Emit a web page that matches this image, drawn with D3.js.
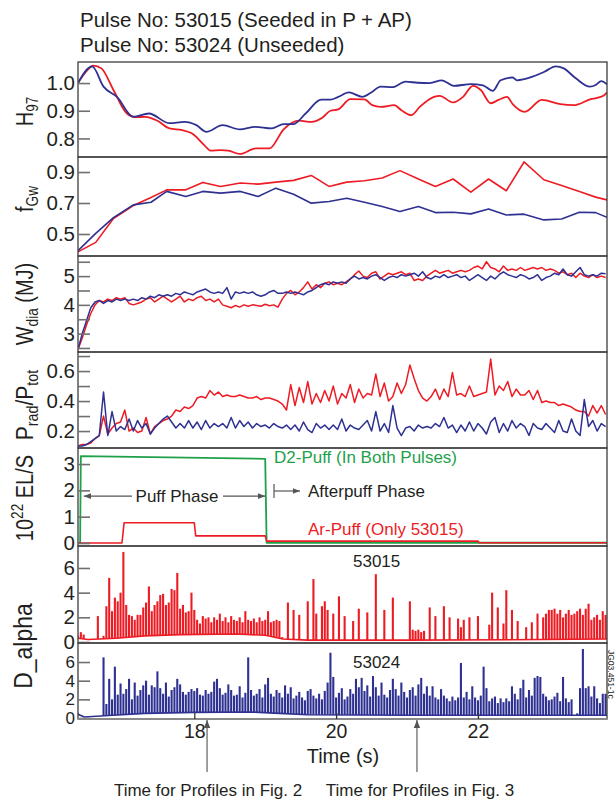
<!DOCTYPE html>
<html>
<head>
<meta charset="utf-8">
<script src="https://cdn.jsdelivr.net/npm/d3@7"></script>
<style>
  body { margin: 0; background: #fff; }
  text { font-family: "Liberation Sans", Arial, Helvetica, sans-serif; fill: #231f20; }
</style>
</head>
<body>
<svg id="chart" width="615" height="800"></svg>
<script>
// ---------------- data ----------------
// H97 (smooth traces)
var h97TimeBlue = [16.36,16.56,16.72,16.91,17.14,17.36,17.65,17.86,18.03,18.17,18.40,18.64,18.86,19.09,19.26,19.40,19.57,19.79,19.92,20.03,20.18,20.37,20.49,20.63,20.79,20.98,21.15,21.32,21.49,21.66,21.90,22.07,22.21,22.32,22.49,22.55,22.77,22.93,23.10,23.21,23.38,23.58,23.66,23.74,23.82];
var h97Blue = [1.00,1.06,0.987,0.95,0.878,0.89,0.855,0.86,0.848,0.824,0.848,0.833,0.842,0.836,0.852,0.852,0.89,0.94,0.94,0.95,0.966,0.95,0.965,0.987,0.985,1.005,1.001,1.0,1.01,0.99,0.996,0.992,0.972,1.01,1.02,1.01,1.023,1.04,1.06,1.053,1.017,0.987,0.993,1.007,0.995];
var h97TimeRed = [16.36,16.47,16.58,16.69,16.86,17.05,17.17,17.31,17.48,17.65,17.83,17.97,18.14,18.23,18.37,18.48,18.64,18.87,19.06,19.26,19.48,19.65,19.81,19.92,20.03,20.20,20.40,20.51,20.63,20.82,20.92,21.06,21.18,21.38,21.46,21.65,21.79,21.93,22.04,22.18,22.29,22.41,22.49,22.66,22.90,23.16,23.35,23.58,23.77,23.82];
var h97Red = [1.0,1.04,1.063,1.053,0.975,0.89,0.877,0.878,0.864,0.836,0.83,0.818,0.776,0.756,0.758,0.756,0.744,0.764,0.764,0.833,0.864,0.86,0.876,0.9,0.905,0.942,0.941,0.92,0.914,0.92,0.902,0.884,0.914,0.95,0.954,0.93,0.95,0.99,0.975,0.927,0.939,0.95,0.924,0.896,0.939,0.924,0.92,0.941,0.954,0.966];

// f_Gw
var fgwTime = [16.36,16.61,16.86,17.14,17.39,17.61,17.88,18.12,18.37,18.65,18.90,19.15,19.40,19.65,19.90,20.15,20.40,20.65,20.90,21.16,21.40,21.65,21.90,22.15,22.40,22.65,22.93,23.18,23.43,23.66,23.82];
var fgwRed = [0.385,0.446,0.60,0.684,0.736,0.785,0.785,0.833,0.807,0.829,0.822,0.835,0.846,0.878,0.807,0.835,0.844,0.861,0.909,0.855,0.807,0.855,0.77,0.855,0.779,0.965,0.85,0.813,0.775,0.738,0.72];
var fgwBlue = [0.392,0.504,0.606,0.688,0.705,0.775,0.742,0.775,0.764,0.775,0.742,0.796,0.757,0.699,0.71,0.731,0.705,0.677,0.645,0.677,0.638,0.64,0.63,0.662,0.623,0.628,0.591,0.597,0.64,0.638,0.608];

// sample times for W_dia and P_rad/P_tot
var gridTime = [
  16.36,16.42,16.48,16.54,16.60,16.66,16.72,16.78,16.84,16.90,
  16.96,17.02,17.08,17.14,17.20,17.26,17.32,17.38,17.44,17.50,
  17.56,17.62,17.68,17.74,17.80,17.86,17.92,17.98,18.04,18.10,
  18.16,18.22,18.28,18.34,18.40,18.46,18.52,18.58,18.64,18.70,
  18.76,18.82,18.88,18.94,19.00,19.06,19.12,19.18,19.24,19.30,
  19.36,19.42,19.48,19.54,19.60,19.66,19.72,19.78,19.84,19.90,
  19.96,20.02,20.08,20.14,20.20,20.26,20.32,20.38,20.44,20.50,
  20.56,20.62,20.68,20.74,20.80,20.86,20.92,20.98,21.04,21.10,
  21.16,21.22,21.28,21.34,21.40,21.46,21.52,21.58,21.64,21.70,
  21.76,21.82,21.88,21.94,22.00,22.06,22.12,22.18,22.24,22.30,
  22.36,22.42,22.48,22.54,22.60,22.66,22.72,22.78,22.84,22.90,
  22.96,23.02,23.08,23.14,23.20,23.26,23.32,23.38,23.44,23.50,
  23.56,23.62,23.68,23.74,23.80];

var wdiaRed = [
  2.45,2.85,3.3,3.7,4.0,4.15,4.1,4.2,4.15,4.25,
  4.2,4.25,4.05,4.0,4.05,4.1,4.2,4.25,4.1,4.2,
  4.3,4.2,4.1,4.2,4.3,4.1,4.2,4.15,4.25,4.3,
  4.15,4.2,4.1,4.2,4.0,3.95,3.9,3.98,3.92,4.0,
  3.95,4.0,3.98,3.95,4.02,3.97,4.0,3.92,4.2,4.4,
  4.5,4.35,4.45,4.6,4.8,4.55,4.7,4.6,4.75,4.8,
  4.7,4.75,4.7,4.8,4.9,5.05,5.18,5.0,4.95,5.1,
  5.15,4.9,5.0,5.1,5.05,5.1,5.15,5.05,5.1,4.85,
  4.9,4.85,5.0,5.1,5.2,5.1,5.15,5.2,5.1,5.15,
  5.2,5.15,5.2,5.3,5.35,5.25,5.5,5.3,5.25,5.15,
  5.35,5.2,5.25,5.2,5.3,5.2,5.25,5.3,5.25,5.3,
  5.2,5.25,5.2,5.1,5.15,5.05,5.1,4.95,5.1,5.0,
  4.95,5.05,4.95,5.0,4.95];
var wdiaBlue = [
  2.45,3.0,3.45,3.9,4.1,4.15,4.05,4.15,4.1,4.2,
  4.15,4.2,4.15,4.2,4.15,4.25,4.2,4.3,4.25,4.35,
  4.3,4.35,4.3,4.4,4.35,4.45,4.4,4.35,4.45,4.5,
  4.55,4.45,4.4,4.45,4.4,4.6,4.2,4.45,4.4,4.45,
  4.4,4.45,4.35,4.3,4.35,4.45,4.5,4.4,4.4,4.45,
  4.4,4.45,4.4,4.35,4.45,4.5,4.6,4.7,4.75,4.7,
  4.8,4.75,4.8,4.75,4.9,5.0,4.9,4.95,4.9,5.0,
  5.05,4.95,4.85,4.95,5.0,4.95,5.05,5.0,5.05,5.1,
  5.0,5.15,4.95,4.9,5.0,4.95,5.05,4.95,5.0,5.05,
  4.95,5.0,4.85,4.95,5.05,4.95,4.85,5.0,4.9,5.05,
  5.15,5.05,5.0,4.95,5.05,5.0,4.9,4.95,5.05,4.85,
  4.95,5.0,5.1,5.05,5.25,5.05,5.0,5.15,5.3,5.05,
  5.0,5.05,5.0,5.1,5.08];

var pradRed = [
  0.10,0.11,0.11,0.12,0.15,0.17,0.30,0.18,0.22,0.25,
  0.26,0.34,0.20,0.22,0.19,0.20,0.29,0.18,0.23,0.25,
  0.27,0.28,0.30,0.34,0.33,0.36,0.35,0.37,0.42,0.43,
  0.42,0.47,0.44,0.46,0.43,0.44,0.43,0.43,0.44,0.43,
  0.42,0.42,0.43,0.41,0.42,0.42,0.41,0.40,0.38,0.34,
  0.51,0.37,0.49,0.39,0.53,0.38,0.45,0.39,0.47,0.40,
  0.50,0.38,0.45,0.42,0.51,0.39,0.48,0.42,0.45,0.44,
  0.58,0.43,0.52,0.40,0.43,0.52,0.45,0.51,0.64,0.55,
  0.47,0.42,0.40,0.43,0.48,0.41,0.48,0.43,0.59,0.44,
  0.45,0.43,0.50,0.43,0.44,0.45,0.46,0.68,0.44,0.50,
  0.47,0.53,0.43,0.48,0.44,0.44,0.47,0.41,0.47,0.39,
  0.40,0.39,0.39,0.37,0.38,0.37,0.36,0.34,0.33,0.33,
  0.30,0.37,0.32,0.37,0.31];
var pradBlue = [
  0.10,0.10,0.11,0.13,0.15,0.17,0.46,0.17,0.33,0.20,
  0.23,0.21,0.28,0.20,0.27,0.22,0.25,0.18,0.22,0.25,
  0.28,0.30,0.26,0.22,0.25,0.22,0.27,0.22,0.26,0.21,
  0.27,0.22,0.25,0.23,0.25,0.22,0.29,0.22,0.27,0.23,
  0.26,0.22,0.25,0.23,0.24,0.22,0.25,0.23,0.22,0.24,
  0.21,0.24,0.20,0.26,0.21,0.19,0.25,0.22,0.24,0.21,
  0.24,0.21,0.28,0.20,0.24,0.22,0.21,0.24,0.27,0.20,
  0.33,0.20,0.25,0.19,0.37,0.22,0.17,0.22,0.23,0.20,
  0.24,0.22,0.23,0.22,0.25,0.23,0.29,0.22,0.24,0.19,
  0.24,0.20,0.26,0.20,0.25,0.22,0.18,0.26,0.29,0.19,
  0.25,0.20,0.27,0.22,0.25,0.23,0.17,0.25,0.22,0.21,
  0.25,0.22,0.19,0.27,0.20,0.19,0.28,0.20,0.17,0.41,
  0.23,0.27,0.20,0.25,0.23];

// gas puff rates (10^22 el/s)
var d2Time = [16.36,16.39,16.40,19.00,19.02,23.82];
var d2Rate = [0,0,3.30,3.20,0.01,0.01];
var arTime = [16.36,16.98,17.01,18.00,18.02,19.00,19.02,22.00,22.02,23.82];
var arRate = [0,0,0.77,0.77,0.27,0.27,0.07,0.07,0.01,0.01];

// D_alpha samples
var dalphaTime = [
  16.36,16.40,16.44,16.48,16.52,16.56,16.60,16.64,16.68,16.72,16.76,16.80,16.84,16.88,16.92,16.96,
  17.00,17.04,17.08,17.12,17.16,17.20,17.24,17.28,17.32,17.36,17.40,17.44,17.48,17.52,17.56,17.60,17.64,17.68,17.72,17.76,17.80,17.84,17.88,17.92,17.96,
  18.00,18.04,18.08,18.12,18.16,18.20,18.24,18.28,18.32,18.36,18.40,18.44,18.48,18.52,18.56,18.60,18.64,18.68,18.72,18.76,18.80,18.84,18.88,18.92,18.96,
  19.00,19.04,19.08,19.12,19.16,19.20,19.24,19.28,19.32,19.36,19.40,19.44,19.48,19.52,19.56,19.60,19.64,19.68,19.72,19.76,19.80,19.84,19.88,19.92,19.96,
  20.00,20.04,20.08,20.12,20.16,20.20,20.24,20.28,20.32,20.36,20.40,20.44,20.48,20.52,20.56,20.60,20.64,20.68,20.72,20.76,20.80,20.84,20.88,20.92,20.96,
  21.00,21.04,21.08,21.12,21.16,21.20,21.24,21.28,21.32,21.36,21.40,21.44,21.48,21.52,21.56,21.60,21.64,21.68,21.72,21.76,21.80,21.84,21.88,21.92,21.96,
  22.00,22.04,22.08,22.12,22.16,22.20,22.24,22.28,22.32,22.36,22.40,22.44,22.48,22.52,22.56,22.60,22.64,22.68,22.72,22.76,22.80,22.84,22.88,22.92,22.96,
  23.00,23.04,23.08,23.12,23.16,23.20,23.24,23.28,23.32,23.36,23.40,23.44,23.48,23.52,23.56,23.60,23.64,23.68,23.72,23.76,23.80];
var dalphaRed = [
  0.5,0.8,0.6,0.2,0,0,0,2.1,0,0.5,
  2.9,5.2,2.5,3.6,3.3,4.0,7.3,3.0,2.2,2.1,
  1.8,2.2,2.2,2.8,3.2,4.5,2.5,3.0,3.3,3.8,
  3.9,3.0,3.2,4.3,4.2,5.6,2.7,3.0,2.4,2.5,
  4.0,2.6,1.8,1.5,2.1,1.9,2.0,1.6,2.0,1.8,
  2.3,1.7,2.0,1.6,2.1,1.8,1.7,2.0,1.6,2.5,
  1.8,1.7,1.9,1.6,2.0,1.7,1.8,2.5,1.6,1.7,
  1.8,1.7,0.4,0,3.2,0,2.6,0,2.2,0,
  0,3.3,0,5.1,2.3,0,2.9,3.3,2.6,0,
  2.3,0,3.7,0,2.1,0,0,1.7,0,2.7,
  0,0,2.4,0,0,5.5,0,0,2.6,0,
  0,3.6,0,0,0,0,0,3.3,1.0,0.9,
  1.0,0.8,0.9,0,2.8,0,2.1,0,0,2.9,
  0,2.0,0,0,1.9,1.2,1.8,0,2.0,0,
  0,2.1,0,0,0,1.4,4.0,0,2.8,0,
  1.5,4.2,0,2.6,0,1.7,0,0,1.2,0,
  1.6,0,2.3,0,2.0,2.3,2.6,2.6,2.7,2.3,
  2.6,2.0,2.3,2.6,2.2,2.3,2.5,2.7,2.2,2.7,
  3.1,1.8,2.0,2.2,1.8,2.5,2.2];
var dalphaBlue = [
  0.5,0,0,0,0,0,0,0,0,6.5,
  1.5,4.2,2.0,5.5,2.5,3.7,2.6,3.1,4.2,2.0,
  3.8,2.4,3.0,3.5,4.0,2.5,3.5,3.3,5.0,3.2,
  2.6,3.8,2.3,3.0,3.3,4.2,3.6,2.8,2.5,2.8,
  3.1,2.9,3.2,2.5,2.4,3.0,2.6,2.8,3.9,4.2,
  3.2,2.5,2.7,3.6,3.0,2.4,2.5,3.4,2.2,2.7,
  6.5,3.0,2.4,2.6,3.1,2.2,3.6,4.3,2.6,2.3,
  3.0,2.7,2.2,3.5,2.6,3.3,2.1,2.4,2.8,2.2,
  1.9,2.9,3.1,2.4,2.1,2.6,2.0,2.9,3.8,7.0,
  4.4,2.2,2.7,3.2,2.0,2.3,3.1,2.6,4.2,3.3,
  4.3,2.9,3.5,2.3,4.5,3.3,2.4,3.8,2.5,2.2,
  3.0,4.2,3.1,2.4,3.8,2.8,2.2,3.0,3.3,2.4,
  3.6,4.3,2.6,3.4,2.4,3.4,2.2,2.0,3.1,2.4,
  2.1,1.8,2.3,1.9,2.2,5.9,2.2,2.8,2.0,3.4,
  2.2,1.9,2.4,5.5,3.2,1.8,2.1,2.3,1.6,2.1,
  1.7,2.1,1.8,3.4,2.6,2.0,3.2,4.1,2.2,3.0,
  2.4,4.3,4.5,4.4,2.6,2.3,1.9,2.0,2.3,2.7,
  1.8,4.4,2.1,1.7,2.0,0,0.5,3.2,7.4,3.2,
  3.4,2.3,3.4,2.1,1.6,2.6,2.6];
// D_alpha background level (between ELMs)
var redFloorTime = [16.36,16.50,16.90,17.30,17.80,18.60,19.00,19.25,19.60,21.00,22.90,23.82];
var redFloorVal = [0.30,0.20,0.30,0.50,0.60,0.65,0.55,0.25,0.15,0.15,0.20,0.25];
var blueFloorTime = [16.36,16.45,16.85,17.30,18.00,18.80,19.20,19.60,21.00,23.82];
var blueFloorVal = [0.40,0.10,0.30,0.50,0.60,0.65,0.50,0.35,0.30,0.30];

// times marked below the axis
var profileTimes = [18.18, 21.14];
var profileLabels = ["Time for Profiles in Fig. 2", "Time for Profiles in Fig. 3"];

[[h97TimeBlue, h97Blue], [h97TimeRed, h97Red], [fgwTime, fgwRed], [fgwTime, fgwBlue],
 [gridTime, wdiaRed], [gridTime, wdiaBlue], [gridTime, pradRed], [gridTime, pradBlue],
 [dalphaTime, dalphaRed], [dalphaTime, dalphaBlue]].forEach(function (p, i) {
  if (p[0].length !== p[1].length) throw new Error("length mismatch " + i + ": " + p[0].length + " vs " + p[1].length);
});

// ---------------- chart ----------------
var svg = d3.select("#chart");
var red = "#ed1c24", blue = "#2e3192", green = "#1fa14a";
var font = '"Liberation Sans", Arial, Helvetica, sans-serif';

var x = d3.scaleLinear().domain([16.36, 23.82]).range([78, 607]);

var panels = [
  { top: 62, bottom: 157, domain: [0.733, 1.076], ticks: [0.8, 0.9, 1.0], labels: [0.8, 0.9, 1.0], fmt: ".1f" },
  { top: 157, bottom: 256, domain: [0.358, 0.997], ticks: [0.5, 0.7, 0.9], labels: [0.5, 0.7, 0.9], fmt: ".1f" },
  { top: 256, bottom: 352, domain: [2.36, 5.70], ticks: [2.5, 3, 3.5, 4, 4.5, 5, 5.5], labels: [3, 4, 5], fmt: "d" },
  { top: 352, bottom: 448, domain: [0.087, 0.727], ticks: [0.2, 0.3, 0.4, 0.5, 0.6, 0.7], labels: [0.2, 0.4, 0.6], fmt: ".1f" },
  { top: 448, bottom: 546, domain: [-0.114, 3.61], ticks: [0, 1, 2, 3], labels: [0, 1, 2, 3], fmt: "d" },
  { top: 546, bottom: 643, domain: [-0.08, 7.78], ticks: [0, 2, 4, 6], labels: [0, 2, 4, 6], fmt: "d" },
  { top: 643, bottom: 719, domain: [-0.107, 8.04], ticks: [0, 2, 4, 6], labels: [0, 2, 4, 6], fmt: "d", fs: 17 }
];

var defs = svg.append("defs");
defs.append("marker").attr("id", "ah")
  .attr("viewBox", "0 0 10 10").attr("refX", 10).attr("refY", 5)
  .attr("markerWidth", 6).attr("markerHeight", 6).attr("orient", "auto")
  .append("path").attr("d", "M0,1 L10,5 L0,9 z").attr("fill", "#555");

panels.forEach(function (p, i) {
  p.y = d3.scaleLinear().domain(p.domain).range([p.bottom, p.top]);
  defs.append("clipPath").attr("id", "clip" + i).append("rect")
    .attr("x", x.range()[0]).attr("y", p.top)
    .attr("width", x.range()[1] - x.range()[0]).attr("height", p.bottom - p.top);
  p.g = svg.append("g").attr("clip-path", "url(#clip" + i + ")");
});

function drawLine(p, times, vals, color, w, curve) {
  var line = d3.line()
    .x(function (d) { return x(times[d]); })
    .y(function (d) { return p.y(vals[d]); })
    .curve(curve || d3.curveLinear);
  p.g.append("path").attr("d", line(d3.range(times.length)))
    .attr("fill", "none").attr("stroke", color).attr("stroke-width", w)
    .attr("stroke-linejoin", "round");
}

// ELM spikes: vertical lines from the background level up to each sample
function drawSpikes(p, times, vals, floorT, floorV, color) {
  var floor = d3.scaleLinear().domain(floorT).range(floorV).clamp(true);
  var pts = times.map(function (t, i) { return { t: t, v: vals[i], f: floor(t) }; })
    .filter(function (d) { return d.v > d.f; });
  p.g.append("g").selectAll("line").data(pts).join("line")
    .attr("x1", function (d) { return x(d.t); }).attr("x2", function (d) { return x(d.t); })
    .attr("y1", function (d) { return p.y(d.f); }).attr("y2", function (d) { return p.y(d.v); })
    .attr("stroke", color).attr("stroke-width", 2.1);
  drawLine(p, floorT, floorV, color, 1.6);
}

drawLine(panels[0], h97TimeRed, h97Red, red, 1.8, d3.curveMonotoneX);
drawLine(panels[0], h97TimeBlue, h97Blue, blue, 1.8, d3.curveMonotoneX);
drawLine(panels[1], fgwTime, fgwRed, red, 1.6);
drawLine(panels[1], fgwTime, fgwBlue, blue, 1.6);
drawLine(panels[2], gridTime, wdiaRed, red, 1.5);
drawLine(panels[2], gridTime, wdiaBlue, blue, 1.5);
drawLine(panels[3], gridTime, pradRed, red, 1.5);
drawLine(panels[3], gridTime, pradBlue, blue, 1.5);
drawLine(panels[4], d2Time, d2Rate, green, 1.8);
drawLine(panels[4], arTime, arRate, red, 1.6);
drawSpikes(panels[5], dalphaTime, dalphaRed, redFloorTime, redFloorVal, red);
drawSpikes(panels[6], dalphaTime, dalphaBlue, blueFloorTime, blueFloorVal, blue);

// frames and y axes
panels.forEach(function (p) {
  svg.append("rect").attr("x", 78).attr("y", p.top)
    .attr("width", 529).attr("height", p.bottom - p.top)
    .attr("fill", "none").attr("stroke", "#3d3d3d").attr("stroke-width", 1.3);
  var ax = d3.axisLeft(p.y).tickValues(p.ticks)
    .tickSizeInner(-12).tickSizeOuter(0).tickPadding(3)
    .tickFormat(function (d) { return p.labels.indexOf(d) >= 0 ? d3.format(p.fmt)(d) : ""; });
  var ag = svg.append("g").attr("transform", "translate(78,0)").call(ax);
  ag.select(".domain").remove();
  ag.selectAll("line").attr("stroke", "#707070").attr("stroke-width", 1.6);
  ag.selectAll("text").attr("font-size", (p.fs || 20.5) + "px").attr("font-family", font).attr("fill", "#231f20");
});

// x axis at the bottom
var last = panels[panels.length - 1];
svg.append("line").attr("x1", 78).attr("x2", 607).attr("y1", last.bottom).attr("y2", last.bottom)
  .attr("stroke", "#8a8a8a").attr("stroke-width", 2.2);
var xa = svg.append("g").attr("transform", "translate(0," + last.bottom + ")")
  .call(d3.axisBottom(x).tickValues([18, 20, 22]).tickSizeInner(-6).tickSizeOuter(0)
    .tickPadding(5).tickFormat(d3.format("d")));
xa.select(".domain").remove();
xa.selectAll("line").attr("stroke", "#333").attr("stroke-width", 1.3);
xa.selectAll("text").attr("font-size", "19.5px").attr("font-family", font).attr("fill", "#231f20");

svg.append("text").attr("x", 343).attr("y", 763).attr("text-anchor", "middle")
  .attr("font-size", "20px").text("Time (s)");

// title
svg.append("text").attr("x", 80).attr("y", 27).attr("font-size", "20.5px").text("Pulse No: 53015 (Seeded in P + AP)");
svg.append("text").attr("x", 80).attr("y", 52).attr("font-size", "20.5px").text("Pulse No: 53024 (Unseeded)");

// rotated y labels with sub/superscripts
function yLabel(cy, size, parts, bx) {
  var t = svg.append("text")
    .attr("transform", "translate(" + (bx || 33) + "," + cy + ") rotate(-90) scale(1,1.15)")
    .attr("text-anchor", "middle").attr("font-size", size + "px")
    .style("white-space", "pre");
  var shift = 0;
  parts.forEach(function (pt) {
    var target = pt[1] === "sub" ? size * 0.22 : pt[1] === "sup" ? -size * 0.42 : 0;
    t.append("tspan").attr("dy", target - shift)
      .attr("font-size", pt[1] ? (size * 0.68) + "px" : null).text(pt[0]);
    shift = target;
  });
}
yLabel((62 + 157) / 2 + 2, 20, [["H"], ["97", "sub"]]);
yLabel(199, 20, [["f"], ["Gw", "sub"]]);
yLabel(304, 20, [["W"], ["dia", "sub"], [" (MJ)"]]);
yLabel(405, 21, [["P"], ["rad", "sub"], ["/P"], ["tot", "sub"]]);
yLabel(498, 20, [["10"], ["22", "sup"], [" EL/S"]]);
yLabel(646, 23, [["D_alpha"]], 32);

// gas puff annotations
var p5 = panels[4];
var arrowY = p5.y(1.78);
svg.append("text").attr("x", 274).attr("y", 463).attr("font-size", "17px").style("fill", green)
  .text("D2-Puff (In Both Pulses)");
svg.append("text").attr("x", 308).attr("y", 535).attr("font-size", "17px").style("fill", red)
  .text("Ar-Puff (Only 53015)");
svg.append("text").attr("x", 177).attr("y", arrowY + 6).attr("text-anchor", "middle")
  .attr("font-size", "17px").text("Puff Phase");
svg.append("text").attr("x", 308).attr("y", 497).attr("font-size", "17px").text("Afterpuff Phase");
svg.append("line").attr("x1", 132).attr("x2", x(d2Time[2]) + 3).attr("y1", arrowY).attr("y2", arrowY)
  .attr("stroke", "#555").attr("stroke-width", 1.2).attr("marker-end", "url(#ah)");
svg.append("line").attr("x1", 223).attr("x2", x(d2Time[3])).attr("y1", arrowY).attr("y2", arrowY)
  .attr("stroke", "#555").attr("stroke-width", 1.2).attr("marker-end", "url(#ah)");
svg.append("line").attr("x1", 274).attr("x2", 274).attr("y1", 484).attr("y2", 498)
  .attr("stroke", "#555").attr("stroke-width", 1.2);
svg.append("line").attr("x1", 274).attr("x2", 300).attr("y1", 491).attr("y2", 491)
  .attr("stroke", "#555").attr("stroke-width", 1.2).attr("marker-end", "url(#ah)");

// pulse numbers in D_alpha panels
svg.append("text").attr("x", 353).attr("y", 567).attr("font-size", "17px").text("53015");
svg.append("text").attr("x", 353).attr("y", 668).attr("font-size", "17px").text("53024");

// profile time arrows
profileTimes.forEach(function (t, i) {
  svg.append("line").attr("x1", x(t)).attr("x2", x(t)).attr("y1", 772).attr("y2", last.bottom + 1)
    .attr("stroke", "#777").attr("stroke-width", 1.4).attr("marker-end", "url(#ah)");
  svg.append("text").attr("x", x(t) + (i ? 3 : 1)).attr("y", 796).attr("text-anchor", "middle")
    .attr("font-size", "17px").text(profileLabels[i]);
});

// figure id on the right edge
svg.append("text").attr("transform", "translate(607.5,650) rotate(90)")
  .attr("font-size", "8.5px").text("JG03.451-1c");
</script>
</body>
</html>
